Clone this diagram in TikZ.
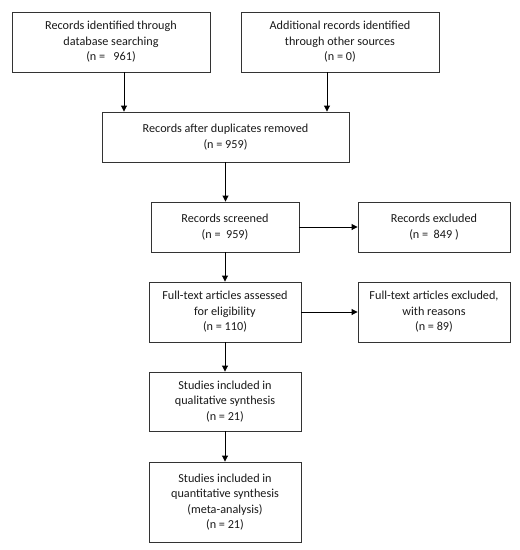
\documentclass[tikz,border=0pt]{standalone}
\usepackage{fontspec}
\setmainfont{Carlito}
\usetikzlibrary{arrows.meta}
\begin{document}
\begin{tikzpicture}[x=1pt,y=-1pt,
  box/.style={draw=black!80,line width=0.9pt,align=center,inner sep=0pt,
    font=\fontsize{12.2}{15.5}\selectfont,text=black!90},
  conn/.style={line width=0.9pt,-{Triangle[length=6pt,width=6pt]}}]
\useasboundingbox (0,0) rectangle (520,550);
\node[box,minimum width=198,minimum height=60] (b1) at (111,42) {Records identified through\\database searching\\(n =~~ 961)};
\node[box,minimum width=198,minimum height=60] (b2) at (340,42) {Additional records identified\\through other sources\\(n = 0)};
\node[box,minimum width=247,minimum height=50] (b3) at (225.5,137) {Records after duplicates removed\\(n = 959)};
\node[box,minimum width=148,minimum height=50] (b4) at (225,227) {Records screened\\(n =~ 959)};
\node[box,minimum width=152,minimum height=50] (b5) at (434,227) {Records excluded\\(n =~ 849 )};
\node[box,minimum width=152,minimum height=60] (b6) at (225,312) {Full-text articles assessed\\for eligibility\\(n = 110)};
\node[box,minimum width=152,minimum height=60] (b7) at (434,312) {Full-text articles excluded,\\with reasons\\(n = 89)};
\node[box,minimum width=152,minimum height=59] (b8) at (225,401.5) {Studies included in\\qualitative synthesis\\(n = 21)};
\node[box,minimum width=152,minimum height=80] (b9) at (225,502) {Studies included in\\quantitative synthesis\\(meta-analysis)\\(n = 21)};
\draw[conn] ([xshift=13]b1.south) -- ([xshift=13]b1.south |- b3.north);
\draw[conn] ([xshift=-13]b2.south) -- ([xshift=-13]b2.south |- b3.north);
\draw[conn] (b3.south) -- (b3.south |- b4.north);
\draw[conn] (b4.east) -- (b5.west);
\draw[conn] (b4.south) -- (b6.north);
\draw[conn] (b6.east) -- (b7.west);
\draw[conn] (b6.south) -- (b8.north);
\draw[conn] (b8.south) -- (b9.north);
\end{tikzpicture}
\end{document}
